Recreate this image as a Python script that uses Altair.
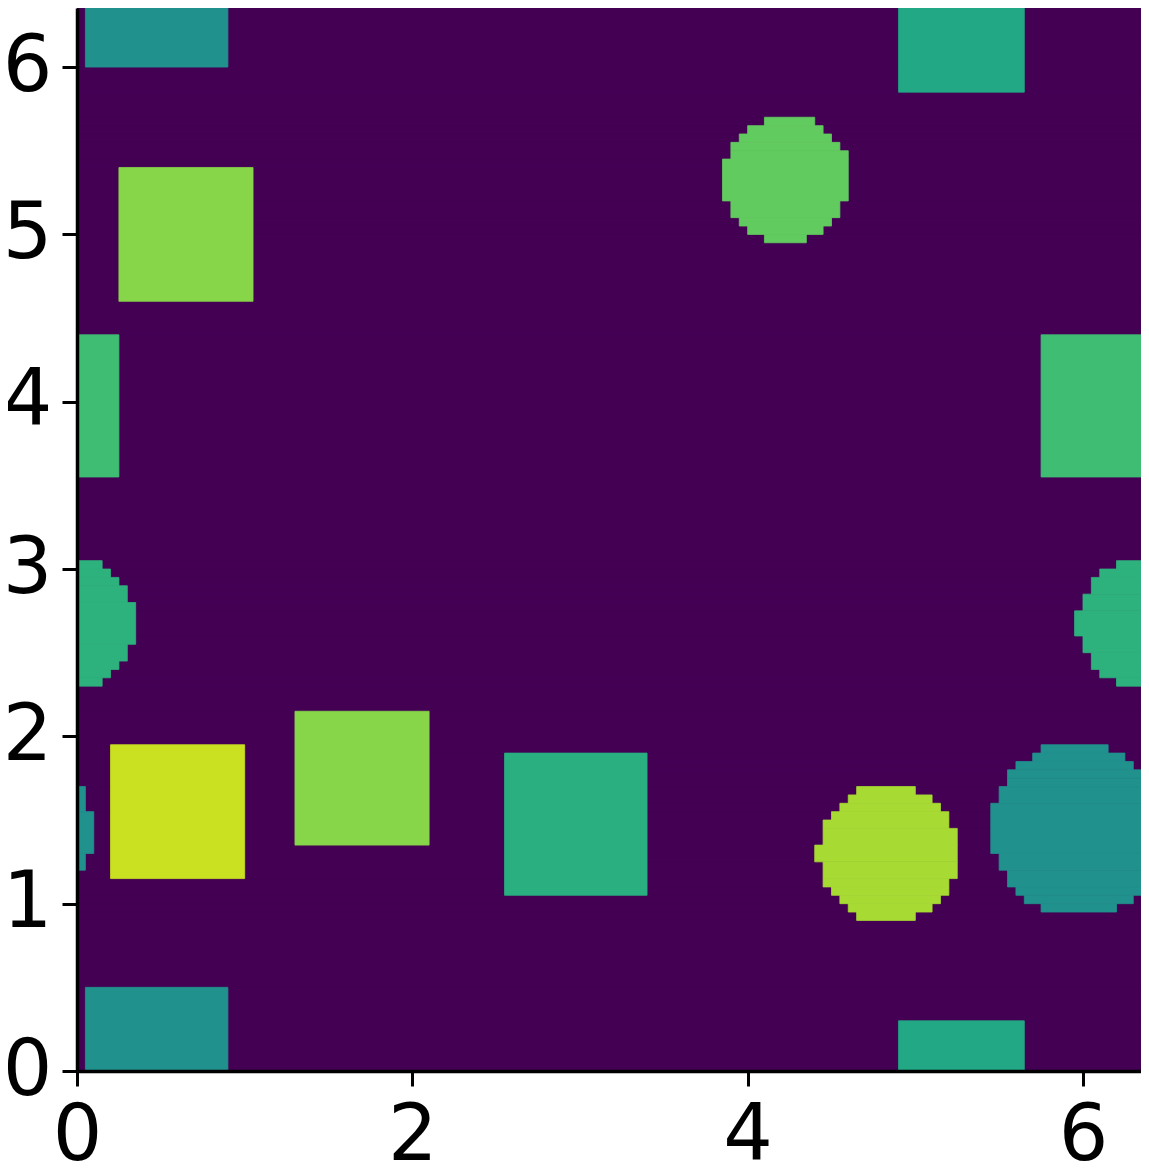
import altair as alt
import numpy as np
import pandas as pd

# ---- grid (periodic field of 128 x 128 cells, spacing 0.05) ----
N_CELLS = 128
CELL = 0.05

# ---- squares: lower-left corner, width, height, value ----
sq_x0 = [0.05, 4.90, 5.75, 0.25, 0.20, 1.30, 2.55]
sq_y0 = [6.00, 5.85, 3.55, 4.60, 1.15, 1.35, 1.05]
sq_w = [0.85, 0.75, 0.90, 0.80, 0.80, 0.80, 0.85]
sq_h = [0.90, 0.85, 0.85, 0.80, 0.80, 0.80, 0.85]
sq_val = [0.50, 0.60, 0.69, 0.82, 0.92, 0.82, 0.63]

# ---- circles: centre, radius, value ----
ci_x = [4.23, 4.84, 5.97, 6.36]
ci_y = [5.33, 1.30, 1.445, 2.675]
ci_r = [0.375, 0.418, 0.52, 0.39]
ci_val = [0.76, 0.87, 0.50, 0.645]

x_ticks = [0, 2, 4, 6]
y_ticks = [0, 1, 2, 3, 4, 5, 6]

# visible part of the periodic domain (right and top edges are cut in the picture)
X_SHOWN = 6.346
Y_SHOWN = 6.353

# ---- rasterise the shapes onto the periodic grid ----
L = N_CELLS * CELL
centres = (np.arange(N_CELLS) + 0.5) * CELL
X, Y = np.meshgrid(centres, centres)
field = np.zeros((N_CELLS, N_CELLS))
for x0, y0, w, h, v in zip(sq_x0, sq_y0, sq_w, sq_h, sq_val):
    inside = (np.mod(X - x0, L) < w) & (np.mod(Y - y0, L) < h)
    field[inside] = v
for cx, cy, r, v in zip(ci_x, ci_y, ci_r, ci_val):
    dx = np.mod(X - cx + L / 2, L) - L / 2
    dy = np.mod(Y - cy + L / 2, L) - L / 2
    field[dx * dx + dy * dy < r * r] = v

# ---- run-length encode rows, then merge identical runs on consecutive rows ----
rects = []
open_runs = {}
for j in range(N_CELLS):
    row = field[j]
    runs = []
    i0 = 0
    for i in range(1, N_CELLS + 1):
        if i == N_CELLS or row[i] != row[i0]:
            runs.append((i0, i, float(row[i0])))
            i0 = i
    new_open = {}
    for key in runs:
        if key in open_runs:
            rec = open_runs[key]
            rec["j1"] = j + 1
        else:
            rec = {"i0": key[0], "i1": key[1], "v": key[2], "j0": j, "j1": j + 1}
            rects.append(rec)
        new_open[key] = rec
    open_runs = new_open

df = pd.DataFrame({
    "x": [r["i0"] * CELL for r in rects],
    "x2": [r["i1"] * CELL for r in rects],
    "y": [r["j0"] * CELL for r in rects],
    "y2": [r["j1"] * CELL for r in rects],
    "value": [r["v"] for r in rects],
}).sort_values("value", kind="stable")

cscale = alt.Scale(scheme="viridis", domain=[0, 1])

axis_common = dict(
    labelFont="DejaVu Sans",
    labelFontSize=78,
    labelColor="black",
    tickColor="black",
    tickWidth=3,
    tickSize=15,
    domainColor="black",
    domainWidth=3.5,
    grid=False,
    labelFlush=False,
    zindex=1,
)

chart = alt.Chart(df).mark_rect(strokeWidth=0.8, clip=True).encode(
    x=alt.X("x:Q", scale=alt.Scale(domain=[0, X_SHOWN], nice=False, zero=False),
            axis=alt.Axis(values=x_ticks, title=None, labelPadding=11, **axis_common)),
    x2="x2:Q",
    y=alt.Y("y:Q", scale=alt.Scale(domain=[0, Y_SHOWN], nice=False, zero=False),
            axis=alt.Axis(values=y_ticks, title=None, labelPadding=10, **axis_common)),
    y2="y2:Q",
    color=alt.Color("value:Q", scale=cscale, legend=None),
    stroke=alt.Stroke("value:Q", scale=cscale, legend=None),
).properties(
    width=1064,
    height=1063,
    autosize=alt.AutoSizeParams(type="none"),
    padding={"left": 69, "top": 0, "right": 0, "bottom": 90},
).configure_view(strokeWidth=0, fill="#440154")

chart.save("out.html", embed_options={"renderer": "svg", "actions": False})
